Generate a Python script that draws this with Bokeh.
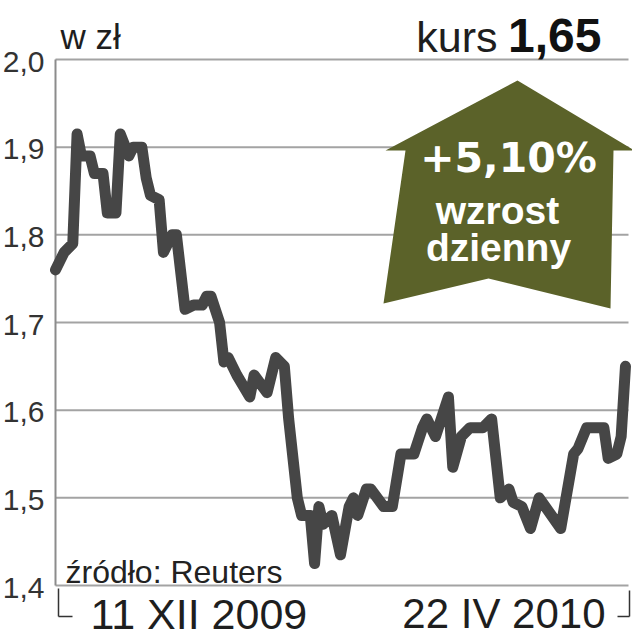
import pandas as pd
from bokeh.plotting import figure
from bokeh.models import Range1d, Arrow
from bokeh.core.properties import value
from bokeh.embed import file_html
from bokeh.resources import INLINE

# ---- data ----
dates = ["2009-12-11", "2009-12-13", "2009-12-15", "2009-12-16", "2009-12-17",
         "2009-12-19", "2009-12-20", "2009-12-22", "2009-12-23", "2009-12-25",
         "2009-12-26", "2009-12-28", "2009-12-29", "2009-12-31", "2010-01-01",
         "2010-01-02", "2010-01-04", "2010-01-05", "2010-01-07", "2010-01-08",
         "2010-01-10", "2010-01-12", "2010-01-14", "2010-01-15", "2010-01-16",
         "2010-01-18", "2010-01-19", "2010-01-20", "2010-01-22", "2010-01-25",
         "2010-01-26", "2010-01-29", "2010-01-31", "2010-02-02", "2010-02-03",
         "2010-02-05", "2010-02-06", "2010-02-08", "2010-02-09", "2010-02-10",
         "2010-02-11", "2010-02-13", "2010-02-15", "2010-02-17", "2010-02-18",
         "2010-02-19", "2010-02-21", "2010-02-22", "2010-02-25", "2010-02-27",
         "2010-03-01", "2010-03-04", "2010-03-06", "2010-03-07", "2010-03-09",
         "2010-03-12", "2010-03-13", "2010-03-15", "2010-03-17", "2010-03-20",
         "2010-03-22", "2010-03-24", "2010-03-26", "2010-03-27", "2010-03-29",
         "2010-03-31", "2010-04-02", "2010-04-07", "2010-04-10", "2010-04-11",
         "2010-04-13", "2010-04-17", "2010-04-18", "2010-04-20", "2010-04-21",
         "2010-04-22"]
kurs = [1.76, 1.78, 1.79, 1.915, 1.89, 1.89, 1.87, 1.87, 1.825, 1.825,
        1.915, 1.89, 1.90, 1.90, 1.865, 1.845, 1.84, 1.78, 1.80, 1.80,
        1.715, 1.72, 1.72, 1.73, 1.73, 1.70, 1.655, 1.66, 1.64, 1.615,
        1.64, 1.62, 1.66, 1.65, 1.59, 1.50, 1.48, 1.48, 1.425, 1.49,
        1.47, 1.48, 1.435, 1.49, 1.50, 1.48, 1.51, 1.51, 1.49, 1.49,
        1.55, 1.55, 1.58, 1.59, 1.57, 1.615, 1.535, 1.57, 1.58, 1.58,
        1.59, 1.50, 1.51, 1.495, 1.49, 1.465, 1.50, 1.465, 1.55, 1.556,
        1.58, 1.58, 1.545, 1.55, 1.57, 1.65]
y_ticks = [1.4, 1.5, 1.6, 1.7, 1.8, 1.9, 2.0]
y_tick_labels = ["1,4", "1,5", "1,6", "1,7", "1,8", "1,9", "2,0"]
unit_label = "w zł"
price_word = "kurs"
price_value = "1,65"
change_text = "+5,10%"
change_words = ["wzrost", "dzienny"]
source_text = "źródło: Reuters"
start_label = "11 XII 2009"
end_label = "22 IV 2010"

# ---- layout helpers (page pixel -> data) ----
t0_ms = pd.Timestamp(dates[0]).value / 1e6
DAY_MS = 86400000.0
PX_PER_DAY = 4.318
X0_PX, Y0_PX, PX_PER_UNIT = 55.0, 59.0, 876.7


def fx(px):
    return t0_ms + (px - X0_PX) / PX_PER_DAY * DAY_MS


def fy(py):
    return 2.0 - (py - Y0_PX) / PX_PER_UNIT


W, H = 632, 638
p = figure(width=W, height=H, output_backend="svg", toolbar_location=None,
           x_axis_type="datetime", x_axis_location=None, y_axis_location=None,
           x_range=Range1d(fx(0), fx(W)), y_range=Range1d(fy(H), fy(0)),
           min_border=0)
p.outline_line_color = None
p.grid.visible = False
p.background_fill_color = "white"
p.border_fill_color = "white"

# horizontal grid lines at the tick values, and the left axis line
p.segment(x0=fx(55), x1=fx(628), y0=y_ticks, y1=y_ticks,
          line_color="#a3a3a3", line_width=2)
p.segment(x0=[fx(55)], x1=[fx(55)], y0=[y_ticks[0]], y1=[y_ticks[-1]],
          line_color="#8c8c8c", line_width=2)
p.text(x=fx(44), y=y_ticks, text=y_tick_labels, text_align="right",
       text_baseline="middle", text_font=value("Liberation Sans"),
       text_font_size="30px", text_color="#333333", y_offset=2)

# big arrow (decoration)
arrow_px = [(517, 80), (634, 150), (613, 150), (610, 308), (488, 278),
            (383, 303), (405, 150), (385, 150)]
p.patch([fx(a) for a, b in arrow_px], [fy(b) for a, b in arrow_px],
        fill_color="#5b6229", line_color=None)

# price line
p.line(pd.to_datetime(dates), kurs, line_color="#464646", line_width=11,
       line_join="round", line_cap="round")


def lab(text, px, base_py, size, align="left", font="Liberation Sans",
        style="normal", color="#1e1e1e", mid=0.31):
    # place by the text's baseline: "middle" sits about mid*size above it
    p.text(x=[fx(px)], y=[fy(base_py - mid * size)], text=[text],
           text_align=align, text_baseline="middle", text_font=value(font),
           text_font_size=f"{size}px", text_font_style=style, text_color=color)


lab(unit_label, 60, 47, 35)
lab(price_word, 497, 50, 43, align="right")
lab(price_value, 601, 50, 48, align="right", style="bold", color="#111111")
lab(change_text, 508, 170, 41, align="center", font="DejaVu Sans", style="bold",
    color="white", mid=0.297)
lab(change_words[0], 497, 222, 39, align="center", style="bold", color="white")
lab(change_words[1], 498, 259, 39, align="center", style="bold", color="white")
lab(source_text, 65, 581, 32, color="#222222")
lab(start_label, 90, 627, 43)
lab(end_label, 605, 626, 42, align="right")

# corner brackets below the axis
for (xa, ya, xb, yb) in [(58, 588, 58, 616), (58, 616, 72, 616),
                         (629, 590, 629, 616), (617, 616, 629, 616)]:
    p.add_layout(Arrow(end=None, x_start=fx(xa), y_start=fy(ya), x_end=fx(xb),
                       y_end=fy(yb), line_color="#333333", line_width=1.5))

open("out.html", "w").write(file_html(p, INLINE))
